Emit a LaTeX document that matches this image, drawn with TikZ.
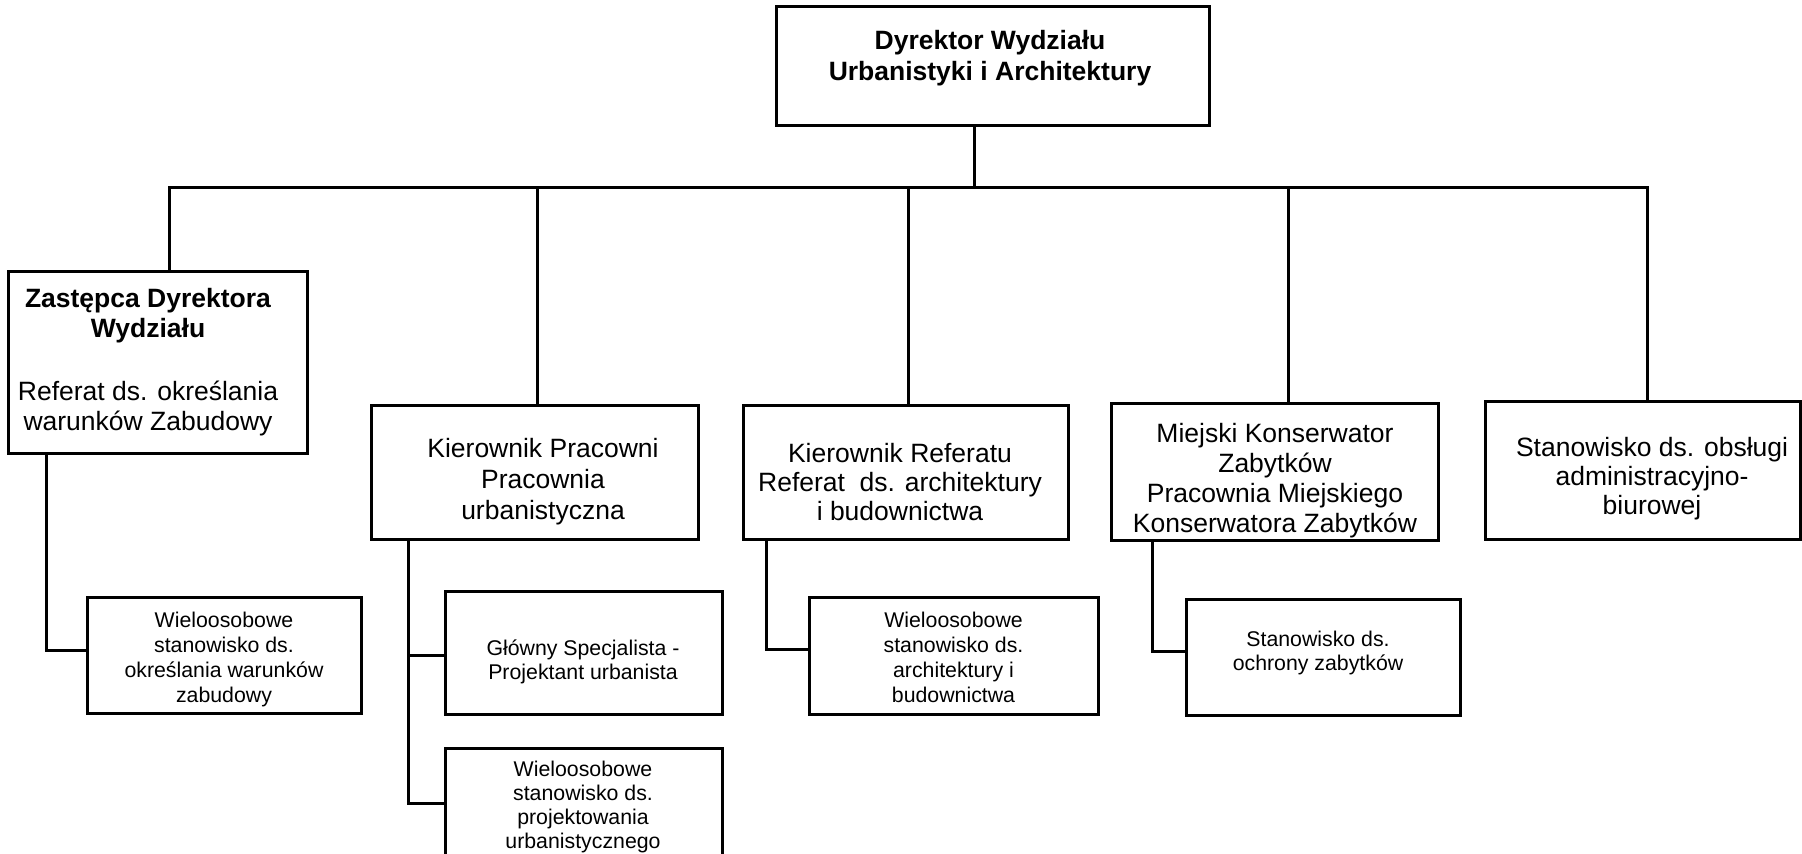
\documentclass[tikz,border=0pt]{standalone}
\usepackage{fontspec}
\setmainfont{Liberation Sans}
\begin{document}
\begin{tikzpicture}[x=0.5pt,y=-0.5pt,
  box/.style={draw=black,line width=1.5pt,rectangle,inner sep=0pt,minimum width=#1},
  conn/.style={draw=black,line width=1.5pt,line join=miter},
  bigtxt/.style={anchor=north,inner sep=0pt,align=center,font=\fontsize{13.25pt}{15pt}\selectfont},
  smalltxt/.style={anchor=north,inner sep=0pt,align=center,font=\fontsize{10.65pt}{12.4pt}\selectfont}]
\useasboundingbox (0,0) rectangle (1802,854);
\fill[white] (0,0) rectangle (1802,854);

% boxes
\node[box=216.5pt,minimum height=59.5pt] (dir)   at (992.5,66.5) {};
\node[box=149.5pt,minimum height=91pt]   (zast)  at (157.5,363) {};
\node[box=137pt,minimum height=58pt]     (sub1)  at (224,655) {};
\node[box=163.5pt,minimum height=67pt]   (kp)    at (534.5,473) {};
\node[box=138.5pt,minimum height=61.5pt] (glow)  at (583.5,652.5) {};
\node[box=138.5pt,minimum height=66pt]   (wproj) at (583.5,814) {};
\node[box=162.5pt,minimum height=67pt]   (kr)    at (905.5,473) {};
\node[box=144.5pt,minimum height=58.5pt] (subkr) at (953.5,655.5) {};
\node[box=163.5pt,minimum height=68.5pt] (mk)    at (1274.5,472.5) {};
\node[box=137pt,minimum height=58pt]     (ochr)  at (1323,657) {};
\node[box=157.5pt,minimum height=69pt]   (obs)   at (1642.5,471) {};

% texts
\node[bigtxt,font=\fontsize{13.25pt}{15.5pt}\selectfont\bfseries] (dirT) at (990,30) {Dyrektor Wydziału\\Urbanistyki i Architektury};
\node[bigtxt] (zastT) at (148,288) {{\bfseries Zastępca Dyrektora}\\{\bfseries Wydziału}\\[16.5pt]Referat ds. określania\\warunków Zabudowy};
\node[smalltxt] (sub1T) at (224,612) {Wieloosobowe\\stanowisko ds.\\określania warunków\\zabudowy};
\node[bigtxt,font=\fontsize{13.25pt}{15.5pt}\selectfont] (kpT) at (543,438) {Kierownik Pracowni\\Pracownia\\urbanistyczna};
\node[smalltxt] (glowT) at (583,639) {Główny Specjalista -\\Projektant urbanista};
\node[smalltxt,font=\fontsize{10.65pt}{12pt}\selectfont] (wprojT) at (583,761) {Wieloosobowe\\stanowisko ds.\\projektowania\\urbanistycznego};
\node[bigtxt,font=\fontsize{13.25pt}{14.5pt}\selectfont] (krT) at (900,443) {Kierownik Referatu\\Referat \ ds. architektury\\i budownictwa};
\node[smalltxt] (subkrT) at (953.5,612) {Wieloosobowe\\stanowisko ds.\\architektury i\\budownictwa};
\node[bigtxt] (mkT) at (1275,423) {Miejski Konserwator\\Zabytków\\Pracownia Miejskiego\\Konserwatora Zabytków};
\node[smalltxt,font=\fontsize{10.65pt}{11.7pt}\selectfont] (ochrT) at (1318,631) {Stanowisko ds.\\ochrony zabytków};
\node[bigtxt,font=\fontsize{13.25pt}{14.5pt}\selectfont] (obsT) at (1652,437) {Stanowisko ds. obsługi\\administracyjno-\\biurowej};

% connector coordinates
\coordinate (stem) at (974,188);
\coordinate (busL) at (169,188);
\coordinate (busR) at (1647,188);
\coordinate (d2) at (537,188);
\coordinate (d3) at (908,188);
\coordinate (d4) at (1288,188);
\coordinate (c1) at (46,650);
\coordinate (c2a) at (408,655);
\coordinate (c2b) at (408,803);
\coordinate (c3) at (766,649);
\coordinate (c4) at (1152,651);

% main connectors
\draw[conn] (stem |- dir.south) -- (stem);
\draw[conn] (busL |- zast.north) -- (busL) -- (busR) -- (busR |- obs.north);
\draw[conn] (d2) -- (d2 |- kp.north);
\draw[conn] (d3) -- (d3 |- kr.north);
\draw[conn] (d4) -- (d4 |- mk.north);

% sub connectors
\draw[conn] (c1 |- zast.south) -- (c1) -- (c1 -| sub1.west);
\draw[conn] (c2a |- kp.south) -- (c2b) -- (c2b -| wproj.west);
\draw[conn] (c2a) -- (c2a -| glow.west);
\draw[conn] (c3 |- kr.south) -- (c3) -- (c3 -| subkr.west);
\draw[conn] (c4 |- mk.south) -- (c4) -- (c4 -| ochr.west);
\end{tikzpicture}
\end{document}
